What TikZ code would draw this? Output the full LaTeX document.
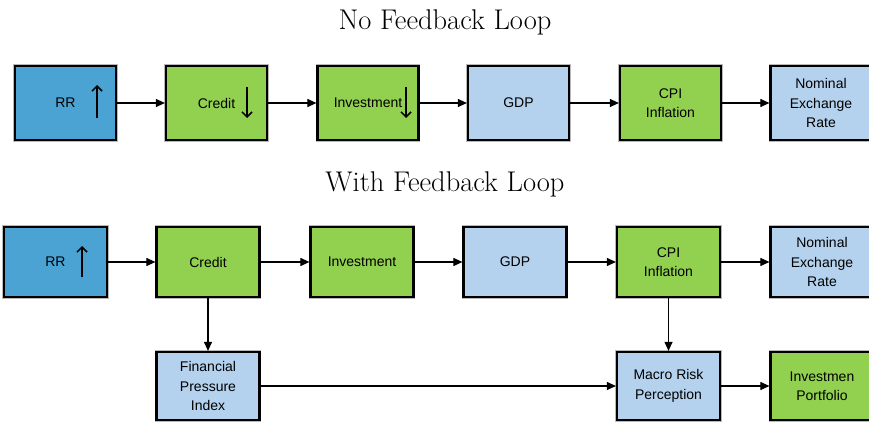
\documentclass[tikz,border=0pt]{standalone}
\usepackage{fontspec}
\newfontfamily\boxfont{Liberation Sans}
\usetikzlibrary{arrows.meta,calc}
\definecolor{rrblue}{RGB}{75,163,211}
\definecolor{boxgreen}{RGB}{146,208,80}
\definecolor{lightblue}{RGB}{180,210,237}
\begin{document}
\begin{tikzpicture}[x=1pt,y=-1pt,
  box/.style={draw=black, line width=2.2pt, preaction={draw=gray!55, line width=3.6pt},
    align=center, inner sep=0pt, font=\boxfont\fontsize{14}{19.5}\selectfont},
  toprow/.style={box, minimum width=101pt, minimum height=74pt},
  midrow/.style={box, minimum width=103pt, minimum height=70pt},
  botrow/.style={box, minimum width=103pt, minimum height=68pt},
  conn/.style={line width=1.1pt, -{Triangle[length=9pt,width=8pt]}},
  glypharrow/.style={line width=1.5pt, -{Straight Barb[length=5pt,width=10pt]}},
  titlefont/.style={font=\fontsize{28.5}{32}\selectfont}]
\useasboundingbox (0,0) rectangle (869,422);

\node[titlefont] (t1) at (445,22) {No Feedback Loop};
\node[titlefont] (t2) at (445,184) {With Feedback Loop};

% top row
\node[toprow, fill=rrblue] (a1) at (65.5,103) {RR};
\node[toprow, fill=boxgreen] (a2) at (216.5,103) {Credit};
\node[toprow, fill=boxgreen] (a3) at (368,103) {Investment};
\node[toprow, fill=lightblue] (a4) at (518.5,103) {GDP};
\node[toprow, fill=boxgreen] (a5) at (670.5,103) {CPI\\Inflation};
\node[toprow, fill=lightblue] (a6) at (821,103) {Nominal\\Exchange\\Rate};

\draw[glypharrow] ($(a1)+(31.5,15)$) -- ($(a1)+(31.5,-18)$);
\draw[glypharrow] ($(a2)+(30.5,-16)$) -- ($(a2)+(30.5,15)$);
\draw[glypharrow] ($(a3)+(38,-16)$) -- ($(a3)+(38,15)$);

\foreach \p/\q in {a1/a2,a2/a3,a3/a4,a4/a5,a5/a6}
  \draw[conn] (\p.east) -- (\q.west);

% second row
\node[midrow, fill=rrblue] (b1) at (55.5,262) {RR};
\node[midrow, fill=boxgreen] (b2) at (208,262) {Credit};
\node[midrow, fill=boxgreen] (b3) at (362,262) {Investment};
\node[midrow, fill=lightblue] (b4) at (515,262) {GDP};
\node[midrow, fill=boxgreen] (b5) at (668.5,262) {CPI\\Inflation};
\node[midrow, fill=lightblue] (b6) at (822,262) {Nominal\\Exchange\\Rate};

\draw[glypharrow] ($(b1)+(26.5,15)$) -- ($(b1)+(26.5,-16)$);

\foreach \p/\q in {b1/b2,b2/b3,b3/b4,b4/b5,b5/b6}
  \draw[conn] (\p.east) -- (\q.west);

% bottom row
\node[botrow, fill=lightblue] (c1) at (208,386) {Financial\\Pressure\\Index};
\node[botrow, fill=lightblue] (c2) at (668.5,386) {Macro Risk\\Perception};
\node[botrow, fill=boxgreen] (c3) at (822,386) {Investmen\\Portfolio};

\draw[conn] (b2.south) -- (c1.north);
\draw[conn] (b5.south) -- (c2.north);
\draw[conn] (c1.east) -- (c2.west);
\draw[conn] (c2.east) -- (c3.west);
\end{tikzpicture}
\end{document}
